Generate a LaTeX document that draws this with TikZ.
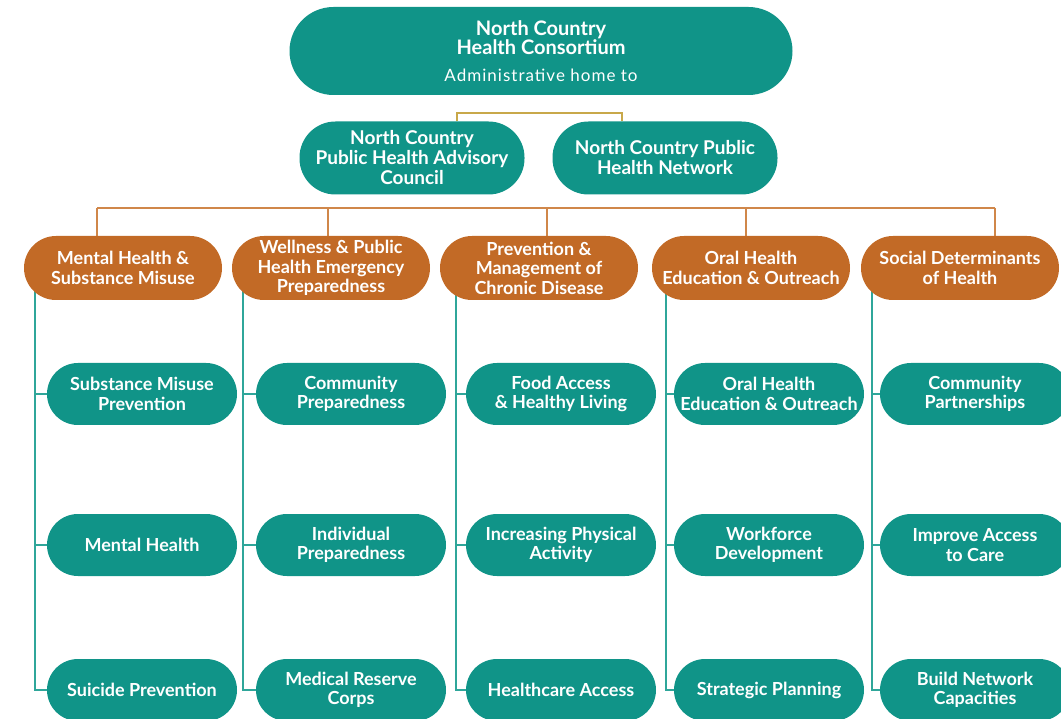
\documentclass[tikz,border=0pt]{standalone}
\usepackage{fontspec}
\setmainfont{Lato}
\usepackage{tikz}
\usetikzlibrary{calc,backgrounds}

\definecolor{nchteal}{RGB}{16,148,136}
\definecolor{nchorange}{RGB}{194,106,38}
\definecolor{nchgold}{RGB}{200,168,74}
\definecolor{nchline}{RGB}{208,135,74}
\definecolor{nchtline}{RGB}{47,166,154}

\begin{document}
\begin{tikzpicture}[x=1pt,y=-1pt]
			\tikzset{box/.style={fill=nchteal,text=white,font=\bfseries\fontsize{18}{19.5}\selectfont,align=center,inner sep=0pt}}
			\tikzset{topbox/.style={box,minimum width=503pt,minimum height=88pt,rounded corners=44pt,font=\bfseries\fontsize{20}{19.5}\selectfont}}
			\tikzset{midbox/.style={box,minimum width=225pt,minimum height=73pt,rounded corners=36pt,font=\bfseries\fontsize{19}{20}\selectfont}}
			\tikzset{catbox/.style={box,fill=nchorange,minimum width=198pt,minimum height=64pt,rounded corners=32pt}}
			\tikzset{subbox/.style={box,minimum width=190pt,minimum height=62pt,rounded corners=31pt}}
			\tikzset{goldline/.style={draw=nchgold,line width=1.6pt}}
			\tikzset{orline/.style={draw=nchline,line width=1.6pt}}
			\tikzset{tline/.style={draw=nchtline,line width=1.6pt}}
			\useasboundingbox (0,0) rectangle (1061,719);
			% top of the tree
			\node[topbox] (nchc) at (541,51) {North Country\\Health Consortium\\[7pt]{\mdseries\fontsize{17}{18}\selectfont\addfontfeature{LetterSpace=6}Administrative home to}};
			\node[midbox] (adv) at (412,158) {North Country\\Public Health Advisory\\Council};
			\node[midbox] (net) at (665,158) {North Country Public\\Health Network};
			% focus areas
			\node[catbox] (c1) at (123,268) {Mental Health \&\\Substance Misuse};
			\node[catbox] (c2) at (331,268) {Wellness \& Public\\Health Emergency\\Preparedness};
			\node[catbox] (c3) at (539,268) {Prevention \&\\Management of\\Chronic Disease};
			\node[catbox] (c4) at (751,268) {Oral Health\\Education \& Outreach};
			\node[catbox] (c5) at (960,268) {Social Determinants\\of Health};
			% work groups
			\node[subbox] (s11) at (142,394) {Substance Misuse\\Prevention};
			\node[subbox] (s12) at (142,545) {Mental Health};
			\node[subbox] (s13) at (142,690) {Suicide Prevention};
			\node[subbox] (s21) at (351,394) {Community\\Preparedness};
			\node[subbox] (s22) at (351,545) {Individual\\Preparedness};
			\node[subbox] (s23) at (351,690) {Medical Reserve\\Corps};
			\node[subbox] (s31) at (561,394) {Food Access\\\& Healthy Living};
			\node[subbox] (s32) at (561,545) {Increasing Physical\\Activity};
			\node[subbox] (s33) at (561,690) {Healthcare Access};
			\node[subbox] (s41) at (769,394) {Oral Health\\Education \& Outreach};
			\node[subbox] (s42) at (769,545) {Workforce\\Development};
			\node[subbox] (s43) at (769,690) {Strategic Planning};
			\node[subbox] (s51) at (975,394) {Community\\Partnerships};
			\node[subbox] (s52) at (975,545) {Improve Access\\to Care};
			\node[subbox] (s53) at (975,690) {Build Network\\Capacities};
			\begin{scope}[on background layer]
			% administrative home
			\coordinate (gbus) at (0,113);
			\coordinate (ga) at ($(adv.north)+(45,0)$);
			\coordinate (gn) at ($(net.north)+(-43,0)$);
			\draw[goldline] ($(nchc.south)+(4,0)$) -- ($(nchc.south)+(4,0)$ |- gbus);
			\draw[goldline] (ga) -- (ga |- gbus) -- (gn |- gbus) -- (gn);
			% bus to focus areas
			\coordinate (obus) at (0,208);
			\draw[orline] ($(adv.south)+(7,0)$) -- ($(adv.south)+(7,0)$ |- obus);
			\draw[orline] ($(net.south)+(4,0)$) -- ($(net.south)+(4,0)$ |- obus);
			\foreach \c/\dx in {1/-26,2/-3,3/8,4/-5,5/35}
				\coordinate (d\c) at ($(c\c.north)+(\dx,0)$);
			\draw[orline] (d1 |- obus) -- (d5 |- obus);
			\foreach \c in {1,...,5}
				\draw[orline] (d\c |- obus) -- (d\c);
			% work group lines
			\foreach \c/\dx in {1/11,2/11,3/16,4/14,5/11} {
				\coordinate (v\c) at ($(c\c.west)+(\dx,0)$);
				\draw[tline] (v\c) -- (v\c |- s\c3.west) -- (s\c3.west);
				\draw[tline] (v\c |- s\c1.west) -- (s\c1.west);
				\draw[tline] (v\c |- s\c2.west) -- (s\c2.west);
			}
			\end{scope}
\end{tikzpicture}
\end{document}
